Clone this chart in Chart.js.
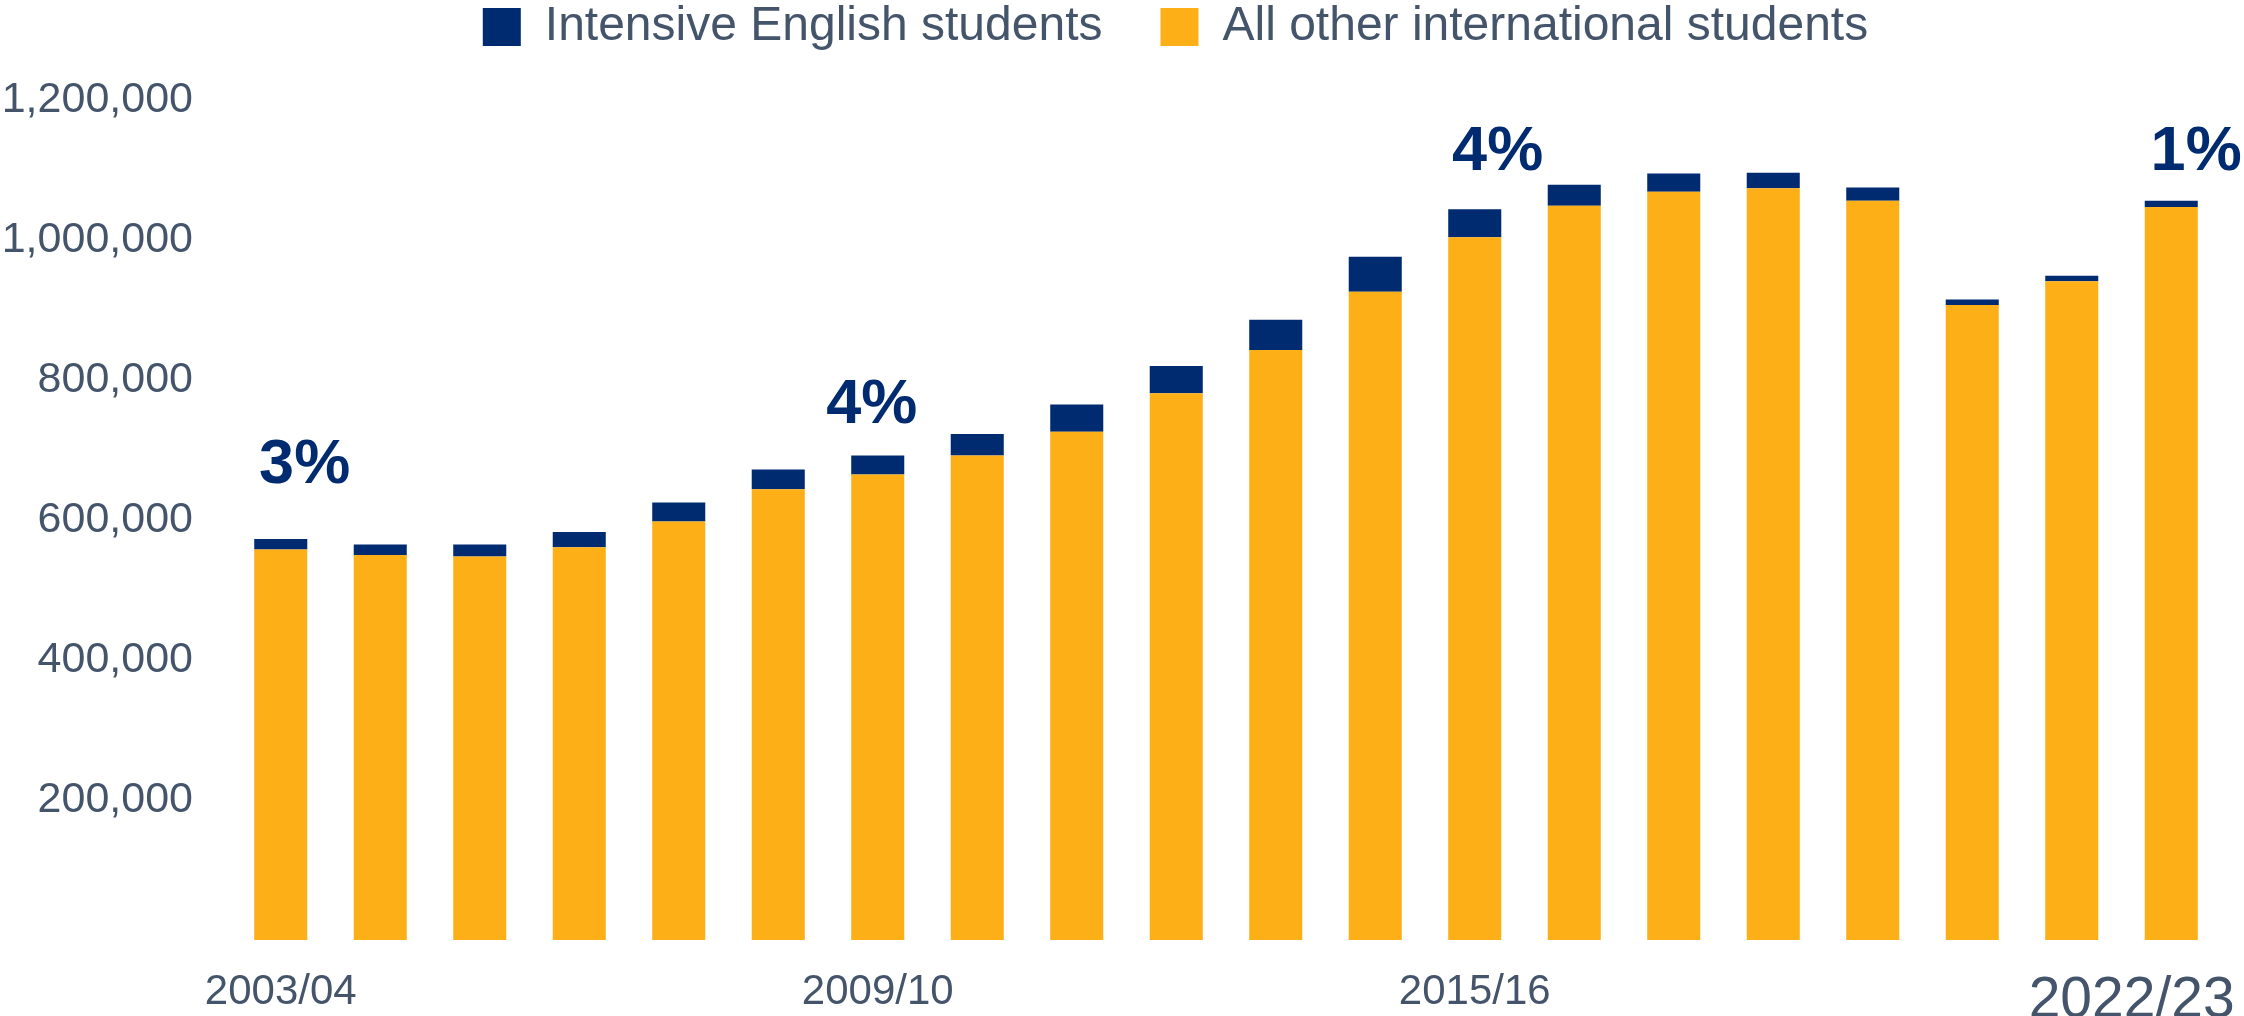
<!DOCTYPE html>
<html>
<head>
<meta charset="utf-8">
<script src="https://cdn.jsdelivr.net/npm/chart.js@4/dist/chart.umd.min.js"></script>
<style>
  html, body { margin: 0; padding: 0; background: #ffffff; }
  #wrap { width: 2244px; height: 1016px; position: relative; }
</style>
</head>
<body>
<div id="wrap"><canvas id="c"></canvas></div>
<script>
// ---- data ----
const categories = ['2003/04','2004/05','2005/06','2006/07','2007/08','2008/09','2009/10','2010/11','2011/12','2012/13',
                    '2013/14','2014/15','2015/16','2016/17','2017/18','2018/19','2019/20','2020/21','2021/22','2022/23'];
const shownLabels = ['2003/04','2009/10','2015/16','2022/23'];
const intensiveEnglish = [15000,15000,17000,22000,27000,28000,27000,31000,39000,39000,
                          43000,50000,40000,30000,26000,22000,19000,8000,8000,9000];
const allOtherIntl = [558000,550000,548000,561000,598000,644000,665000,692000,726000,781000,
                      843000,926000,1004000,1049000,1069000,1074000,1056000,907000,941000,1047000];
const yTicks = [200000,400000,600000,800000,1000000,1200000];
const annIndex = [0, 6, 12, 19];
const annText = ['3%','4%','4%','1%'];
const annValue = [653000, 739000, 1100000, 1100000];
const annShift = [0.24, -0.06, 0.23, 0.25];

// ---- styles ----
const NAVY = '#002b70';
const ORANGE = '#fcaf17';
const GREY = '#44546a';
const FONT = '"Liberation Sans", Arial, sans-serif';

const annotations = {
  id: 'annotations',
  afterDatasetsDraw(chart) {
    const {ctx, scales: {x, y}} = chart;
    ctx.save();
    ctx.font = 'bold 63px ' + FONT;
    ctx.fillStyle = NAVY;
    ctx.textAlign = 'center';
    ctx.textBaseline = 'alphabetic';
    annIndex.forEach((idx, i) => {
      ctx.fillText(annText[i], x.getPixelForValue(idx + annShift[i]), y.getPixelForValue(annValue[i]));
    });
    ctx.restore();
  }
};

const legendTweak = {
  id: 'legendTweak',
  beforeInit(chart) {
    const orig = chart.legend.fit;
    chart.legend.fit = function () {
      orig.bind(chart.legend)();
      this.height = 155;
    };
  },
  afterLayout(chart) {
    chart.legend.left += 130;
  }
};

new Chart(document.getElementById('c'), {
  type: 'bar',
  data: {
    labels: categories,
    datasets: [
      { label: 'All other international students', data: allOtherIntl, backgroundColor: ORANGE, borderWidth: 0 },
      { label: 'Intensive English students', data: intensiveEnglish, backgroundColor: NAVY, borderWidth: 0 }
    ]
  },
  options: {
    responsive: true,
    maintainAspectRatio: false,
    animation: false,
    devicePixelRatio: 1,
    layout: { padding: { left: 0, right: 23, top: -55, bottom: 0 } },
    datasets: { bar: { categoryPercentage: 1.0, barPercentage: 0.533 } },
    plugins: {
      tooltip: { enabled: false },
      legend: {
        position: 'top',
        align: 'center',
        reverse: true,
        labels: {
          boxWidth: 38,
          boxHeight: 38,
          padding: 58,
          color: GREY,
          font: { family: FONT, size: 48 }
        }
      }
    },
    scales: {
      x: {
        stacked: true,
        grid: { display: false, drawTicks: false },
        border: { display: false },
        ticks: {
          autoSkip: false,
          maxRotation: 0,
          padding: 27,
          color: GREY,
          font: (ctx) => ({ family: FONT, size: (ctx.index === categories.length - 1) ? 57 : 42 }),
          callback: function (value, index) {
            const lab = categories[index];
            if (!shownLabels.includes(lab)) return '';
            return index === categories.length - 1 ? lab + '\u00a0\u00a0\u00a0\u00a0\u00a0' : lab;
          }
        },
        afterFit(scale) {
          scale.height = 76;
          scale.paddingLeft = 0;
          scale.paddingRight = 0;
        }
      },
      y: {
        stacked: true,
        min: 0,
        max: 1200000,
        grid: { display: false, drawTicks: false },
        border: { display: false },
        afterBuildTicks(scale) {
          scale.ticks = [{ value: 0 }].concat(yTicks.map(v => ({ value: v })));
        },
        ticks: {
          padding: 38,
          color: GREY,
          font: { family: FONT, size: 43 },
          callback: (v) => v === 0 ? '' : Number(v).toLocaleString('en-US')
        },
        afterFit(scale) {
          scale.width = 231;
        }
      }
    }
  },
  plugins: [annotations, legendTweak]
});
</script>
</body>
</html>
